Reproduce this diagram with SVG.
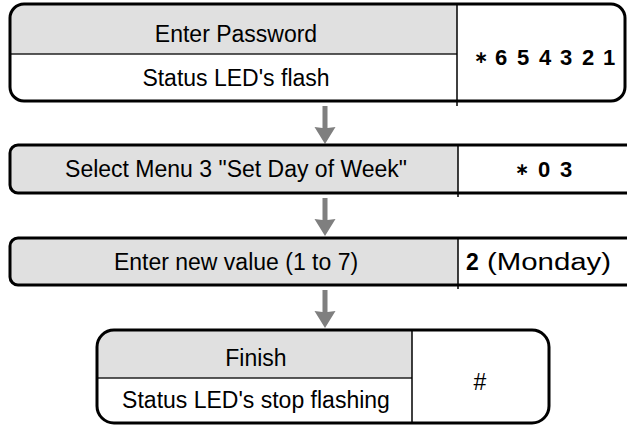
<svg xmlns="http://www.w3.org/2000/svg" width="627" height="426" viewBox="0 0 627 426">
  <style>
    .frame { fill: none; stroke: #000; stroke-width: 3; }
    .band { fill: #e0e0e0; }
    .cell { fill: #fff; }
    .rule { stroke: #222; stroke-width: 1.5; fill: none; }
    .col { stroke: #000; stroke-width: 1.5; fill: none; }
    .t { font-family: "Liberation Sans", Arial, sans-serif; font-size: 23px; fill: #000; text-anchor: middle; }
    .key { font-family: "Liberation Sans", Arial, sans-serif; font-size: 22px; font-weight: bold; fill: #000; text-anchor: middle; }
    .star { font-family: "DejaVu Sans", "Liberation Sans", sans-serif; font-size: 17px; font-weight: bold; }
    .arrow { fill: #7f7f7f; }
  </style>
  <defs>
    <clipPath id="clip-step1"><rect x="10" y="4" width="615" height="97" rx="14"/></clipPath>
    <clipPath id="clip-step2"><rect x="10" y="145" width="630" height="48" rx="8"/></clipPath>
    <clipPath id="clip-step3"><rect x="10" y="238" width="630" height="47" rx="8"/></clipPath>
    <clipPath id="clip-step4"><rect x="97" y="330" width="452" height="93" rx="17"/></clipPath>
    <path id="down-arrow" d="M-2.5,0 H2.5 V22 L10.5,21 L0,38 L-10.5,21 L-2.5,22 Z"/>
  </defs>

  <!-- connectors -->
  <g id="connectors">
    <use href="#down-arrow" class="arrow" x="325" y="106"/>
    <use href="#down-arrow" class="arrow" x="325" y="198"/>
    <use href="#down-arrow" class="arrow" x="325" y="290"/>
  </g>

  <!-- step 1: password -->
  <g id="step-password">
    <g clip-path="url(#clip-step1)">
      <rect class="cell" x="10" y="4" width="615" height="97"/>
      <rect class="band" x="10" y="4" width="447" height="50"/>
    </g>
    <line class="rule" x1="10" y1="54" x2="457" y2="54"/>
    <line class="col" x1="457" y1="4" x2="457" y2="106"/>
    <rect class="frame" x="10" y="4" width="615" height="97" rx="14"/>
    <text class="t" x="236" y="41.5">Enter Password</text>
    <text class="t" x="236" y="86">Status LED's flash</text>
    <text class="key" y="65"><tspan class="star" x="481" y="63">∗</tspan><tspan x="501" y="65">6</tspan><tspan x="523">5</tspan><tspan x="545">4</tspan><tspan x="566">3</tspan><tspan x="588">2</tspan><tspan x="609">1</tspan></text>
  </g>

  <!-- step 2: menu selection -->
  <g id="step-menu">
    <g clip-path="url(#clip-step2)">
      <rect class="cell" x="10" y="145" width="630" height="48"/>
      <rect class="band" x="10" y="145" width="448" height="48"/>
    </g>
    <line class="col" x1="458" y1="145" x2="458" y2="197"/>
    <rect class="frame" x="10" y="145" width="630" height="48" rx="8"/>
    <text class="t" x="236" y="177">Select Menu 3 "Set Day of Week"</text>
    <text class="key" y="177" font-size="23"><tspan class="star" x="522" y="175">∗</tspan><tspan x="544" y="177">0</tspan><tspan x="566">3</tspan></text>
  </g>

  <!-- step 3: new value -->
  <g id="step-value">
    <g clip-path="url(#clip-step3)">
      <rect class="cell" x="10" y="238" width="630" height="47"/>
      <rect class="band" x="10" y="238" width="448" height="47"/>
    </g>
    <line class="col" x1="458" y1="238" x2="458" y2="289"/>
    <rect class="frame" x="10" y="238" width="630" height="47" rx="8"/>
    <text class="t" x="236" y="269.5">Enter new value (1 to 7)</text>
    <text class="t" y="270" font-size="24" style="text-anchor:start"><tspan x="466" font-weight="bold">2</tspan><tspan x="487" textLength="124" lengthAdjust="spacingAndGlyphs">(Monday)</tspan></text>
  </g>

  <!-- step 4: finish -->
  <g id="step-finish">
    <g clip-path="url(#clip-step4)">
      <rect class="cell" x="97" y="330" width="452" height="93"/>
      <rect class="band" x="97" y="330" width="315" height="48"/>
    </g>
    <line class="rule" x1="97" y1="378" x2="412" y2="378"/>
    <line class="col" x1="412" y1="330" x2="412" y2="423"/>
    <rect class="frame" x="97" y="330" width="452" height="93" rx="17"/>
    <text class="t" x="256" y="366">Finish</text>
    <text class="t" x="256" y="408">Status LED's stop flashing</text>
    <text class="t" x="480" y="390">#</text>
  </g>
</svg>
